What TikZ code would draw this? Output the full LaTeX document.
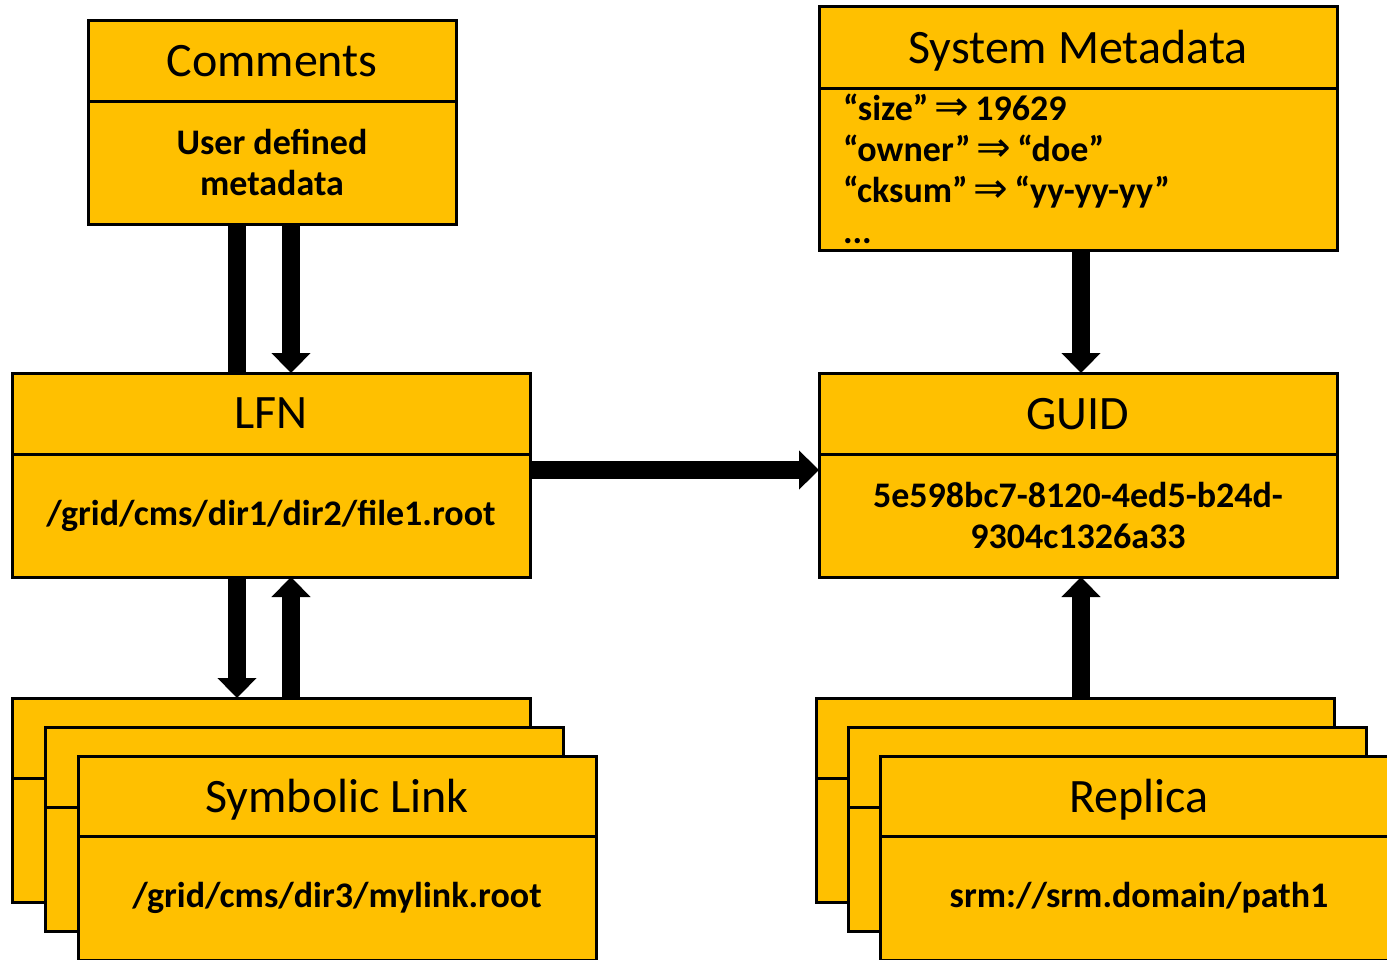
\documentclass[tikz,border=0pt]{standalone}
\usepackage{fontspec}
\setmainfont{Carlito}
\newfontfamily\symf[Scale=1.15]{DejaVu Sans}
\newcommand{\ra}{\,{\symf\mdseries ⇒}\,}
\usetikzlibrary{positioning}
\usetikzlibrary{arrows.meta}
\definecolor{gold}{HTML}{FFC000}

\tikzset{
  hd/.style={draw=black, fill=gold, line width=3pt, outer sep=0pt, inner sep=0pt,
    minimum width=518pt, minimum height=81pt, text depth=0pt, font=\fontsize{48}{56}\selectfont},
  bd/.style={draw=black, fill=gold, line width=3pt, outer sep=0pt, inner sep=0pt,
    minimum width=518pt, minimum height=123pt, align=center,
    font=\bfseries\fontsize{36}{41}\selectfont},
  bigline/.style={line width=18pt},
  bigarrow/.style={line width=18pt, -{Triangle[length=20pt,width=38pt]}},
}

\begin{document}
\begin{tikzpicture}[x=1pt,y=-1pt]
    \clip (0,0) rectangle (1387,959);
    \useasboundingbox (0,0) rectangle (1387,959);

    % 上方两个框
    \node[hd, anchor=north west, minimum width=368pt] (comH) at (88,20) {Comments};
    \node[bd, below=0pt of comH, minimum width=368pt] (comB) {User defined\\metadata};

    \node[hd, anchor=north west, minimum height=82pt] (sysH) at (819,6) {System Metadata};
    \node[bd, below=0pt of sysH, minimum height=162pt, text width=470pt, inner xsep=24pt, align=left] (sysB)
        {“size”\ra 19629\\“owner”\ra “doe”\\“cksum”\ra “yy-yy-yy”\\...};

    % 中间两个框
    \node[hd, anchor=north west] (lfnH) at (12,373) {LFN};
    \node[bd, below=0pt of lfnH] (lfnB) {/grid/cms/dir1/dir2/file1.root};

    \node[hd, anchor=north west] (guidH) at (819,373) {GUID};
    \node[bd, below=0pt of guidH] (guidB) {5e598bc7-8120-4ed5-b24d-\\9304c1326a33};

    % 叠放的框
    \foreach \k in {0,1}{
      \node[hd, anchor=north west, minimum height=80pt] (sl\k h) at ({12+33*\k},{698+29*\k}) {};
      \node[bd, below=0pt of sl\k h, minimum height=124pt] (sl\k b) {};
      \node[hd, anchor=north west, minimum height=80pt] (rp\k h) at ({816+32*\k},{698+29*\k}) {};
      \node[bd, below=0pt of rp\k h, minimum height=124pt] (rp\k b) {};
    }
    \node[hd, anchor=north west, minimum height=80pt] (slH) at (78,756) {Symbolic Link};
    \node[bd, below=0pt of slH, minimum height=124pt] (slB) {/grid/cms/dir3/mylink.root};
    \node[hd, anchor=north west, minimum height=80pt] (rpH) at (880,756) {Replica};
    \node[bd, below=0pt of rpH, minimum height=124pt] (rpB) {srm://srm.domain/path1};

    % 箭头
    \draw[bigline] ([xshift=-34pt]lfnH.north) -- ([xshift=-34pt]lfnH.north |- comB.south);
    \draw[bigarrow] ([xshift=20pt]lfnH.north |- comB.south) -- ([xshift=20pt]lfnH.north);
    \draw[bigarrow] ([xshift=-34pt]lfnB.south) -- ([xshift=-34pt]lfnB.south |- sl0h.north);
    \draw[bigarrow] ([xshift=20pt]lfnB.south |- sl0h.north) -- ([xshift=20pt]lfnB.south);
    \draw[bigarrow] ([yshift=-16pt]lfnB.north east) -- ([yshift=-16pt]guidB.north west);
    \draw[bigarrow] ([xshift=3pt]sysB.south) -- ([xshift=3pt]guidH.north);
    \draw[bigarrow] ([xshift=3pt]guidB.south |- rp0h.north) -- ([xshift=3pt]guidB.south);
\end{tikzpicture}
\end{document}
